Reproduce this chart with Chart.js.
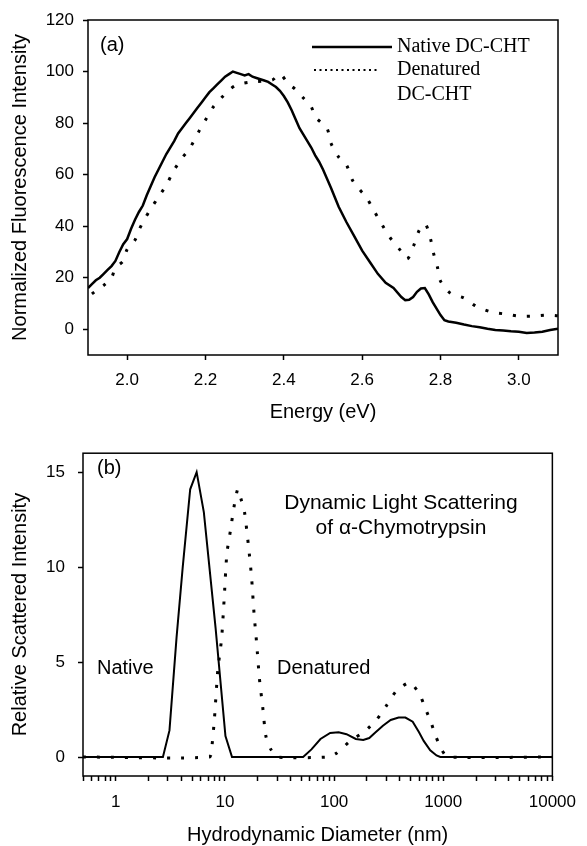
<!DOCTYPE html>
<html lang="en">
<head>
<meta charset="UTF-8">
<title>DC-CHT fluorescence and dynamic light scattering</title>
<style>
  body { margin: 0; background: #fff; }
  #wrap { position: relative; width: 587px; height: 846px; }
  canvas { position: absolute; left: 0; }
  #fluorChart { top: 0; }
  #dlsChart { top: 430px; }
</style>
</head>
<body>
<div id="wrap">
  <canvas id="fluorChart" width="587" height="430"></canvas>
  <canvas id="dlsChart" width="587" height="416"></canvas>
</div>
<script src="https://cdn.jsdelivr.net/npm/chart.js"></script>
<script>
// panel (a): fluorescence spectra
const nativeEnergy = [1.90, 1.91, 1.92, 1.93, 1.94, 1.95, 1.96, 1.97, 1.98, 1.99, 2.00, 2.01, 2.02, 2.03, 2.04, 2.05, 2.06, 2.07, 2.08, 2.09,
  2.10, 2.11, 2.12, 2.13, 2.14, 2.15, 2.16, 2.17, 2.18, 2.19, 2.20, 2.21, 2.22, 2.23, 2.24, 2.25, 2.26, 2.27, 2.28, 2.29,
  2.30, 2.31, 2.32, 2.33, 2.34, 2.35, 2.36, 2.37, 2.38, 2.39, 2.40, 2.41, 2.42, 2.43, 2.44, 2.45, 2.46, 2.47, 2.48, 2.49,
  2.50, 2.52, 2.54, 2.56, 2.58, 2.60, 2.62, 2.64, 2.66, 2.68, 2.70, 2.71, 2.72, 2.73, 2.74, 2.75, 2.76, 2.77, 2.78, 2.79,
  2.80, 2.81, 2.82, 2.84, 2.86, 2.88, 2.90, 2.92, 2.94, 2.96, 2.98, 3.00, 3.02, 3.04, 3.06, 3.08, 3.10];
const nativeFluor = [16, 17.5, 19, 20, 21.5, 23, 24.5, 26.5, 30, 33, 35, 39, 42.5, 45.5, 48, 52, 55.5, 59, 62, 65,
  68, 70.5, 73, 76, 78, 80, 82, 84, 86, 88, 90, 92, 93.5, 95, 96.5, 98, 99, 100, 99.5, 99,
  98.5, 99, 98, 97.5, 97, 96.5, 96, 95, 94, 92.5, 90.5, 88, 85, 81.5, 78, 75.5, 73, 70.5, 67.5, 65,
  62, 55, 47.5, 41.5, 36, 30.5, 26, 21.5, 18, 16, 12.5, 11.3, 11.4, 12.5, 14.5, 15.8, 16, 13.5, 10.5, 8,
  5.5, 3.5, 3, 2.5, 1.8, 1.2, 0.8, 0.2, -0.3, -0.5, -0.8, -1.0, -1.5, -1.3, -1.0, -0.3, 0.2];
const denatEnergy = [1.91, 1.93, 1.94, 1.96, 1.97, 1.99, 2.00, 2.02, 2.03, 2.045, 2.06, 2.08, 2.10, 2.12, 2.14, 2.16, 2.185, 2.20, 2.22, 2.24,
  2.26, 2.28, 2.32, 2.37, 2.39, 2.41, 2.43, 2.45, 2.47, 2.48, 2.51, 2.52, 2.54, 2.56, 2.575, 2.59, 2.61, 2.63, 2.65, 2.67,
  2.695, 2.715, 2.733, 2.746, 2.761, 2.774, 2.782, 2.792, 2.80, 2.825, 2.86, 2.89, 2.93, 2.965, 3.00, 3.035, 3.07, 3.10];
const denatFluor = [13.7, 16, 17, 20, 23.8, 26.5, 31, 34.6, 38.5, 42.8, 46.7, 51.3, 56, 61.8, 66.4, 70.3, 77.3, 81.2, 86.3, 89.7,
  92.8, 94.8, 96, 96.7, 99, 95.5, 93, 89.7, 86.3, 82.4, 78, 72.3, 66.8, 63.7, 57.9, 54.8, 51.3, 46, 40.8, 35.8,
  31.1, 27.3, 33, 38.5, 40.8, 35.4, 29.6, 24.2, 18.7, 14, 12.1, 9, 6.7, 5.9, 5.1, 5.1, 5.5, 5.2];
const energyTicks = [2.0, 2.2, 2.4, 2.6, 2.8, 3.0];
const fluorTicks = [0, 20, 40, 60, 80, 100, 120];

// panel (b): dynamic light scattering
const nativeDiam = [0.5, 2.7, 3.1, 3.6, 4.1, 4.8, 5.5, 6.4, 8.2, 10.1, 11.6, 52, 62, 75, 92, 110, 130, 158, 185, 210,
  240, 280, 330, 390, 450, 525, 600, 662, 760, 868, 940, 10000];
const nativeScatter = [0, 0, 1.4, 6.3, 10, 14.1, 15, 12.9, 6.8, 1.1, 0, 0, 0.4, 0.95, 1.27, 1.3, 1.2, 0.95, 0.9, 1.0,
  1.3, 1.65, 1.95, 2.08, 2.08, 1.86, 1.3, 0.85, 0.35, 0.08, 0, 0];
const denatDiam = [0.5, 7.2, 7.6, 8.0, 8.6, 9.3, 9.8, 10.4, 11.2, 12.2, 13.1, 14.0, 15.1, 16.5, 17.5, 18.5, 19.5, 20.7, 22.2, 23.7,
  26.4, 30, 88, 105, 141, 192, 248, 305, 371, 494, 603, 688, 774, 857, 977, 1100, 10000];
const denatScatter = [0, 0, 0.6, 2, 4.6, 6.2, 8.2, 10.7, 11.9, 13.3, 14.1, 13.6, 12.9, 11, 9.5, 7.5, 6, 4.1, 2.6, 1.1,
  0.39, 0, 0, 0.2, 0.85, 1.36, 2.0, 2.75, 3.47, 3.93, 3.34, 2.54, 1.81, 1.07, 0.34, 0, 0];
const diamMajor = [1, 10, 100, 1000, 10000];
const scatterTicks = [0, 5, 10, 15];

const tickFont = { family: "'Liberation Sans', Arial, sans-serif", size: 17 };
const titleFont = { family: "'Liberation Sans', Arial, sans-serif", size: 20 };
const sans20 = "20px 'Liberation Sans', Arial, sans-serif";
const sans21 = "21px 'Liberation Sans', Arial, sans-serif";
const serif20 = "20px 'Liberation Serif', 'Times New Roman', serif";

function pts(xs, ys) {
  return xs.map((x, i) => ({ x: x, y: ys[i] }));
}

// box round the plot, free text and the little legend
const panelText = {
  id: 'panelText',
  afterDatasetsDraw(chart, args, opts) {
    const ctx = chart.ctx;
    const a = chart.chartArea;
    ctx.save();
    ctx.strokeStyle = '#000';
    ctx.lineWidth = 1.5;
    ctx.strokeRect(a.left, a.top, a.right - a.left, a.bottom - a.top);
    (opts.keys || []).forEach(k => {
      ctx.beginPath();
      ctx.lineWidth = k.width;
      ctx.setLineDash(k.dash || []);
      ctx.moveTo(a.left + k.x1, a.top + k.dy);
      ctx.lineTo(a.left + k.x2, a.top + k.dy);
      ctx.stroke();
    });
    ctx.setLineDash([]);
    ctx.fillStyle = '#000';
    ctx.textBaseline = 'middle';
    (opts.labels || []).forEach(l => {
      ctx.font = l.font;
      ctx.textAlign = l.align || 'left';
      ctx.fillText(l.text, a.left + l.dx, a.top + l.dy);
    });
    ctx.restore();
  }
};

function yAxis(min, max, ticks, width, pad, title) {
  return {
    type: 'linear', min: min, max: max,
    afterBuildTicks: s => { s.ticks = ticks.map(v => ({ value: v })); },
    afterFit: s => { s.width = width; },
    ticks: { font: tickFont, color: '#000', padding: pad },
    grid: { drawOnChartArea: false, tickLength: 5, tickColor: '#000', tickWidth: 1.5 },
    border: { display: false },
    title: { display: true, text: title, font: titleFont, color: '#000', padding: { top: 8, bottom: 0 } }
  };
}

new Chart(document.getElementById('fluorChart'), {
  type: 'line',
  data: {
    datasets: [
      {
        label: 'Native DC-CHT',
        data: pts(nativeEnergy, nativeFluor),
        borderColor: '#000', borderWidth: 2.5, pointRadius: 0, tension: 0
      },
      {
        label: 'Denatured DC-CHT',
        data: pts(denatEnergy, denatFluor),
        borderColor: '#000', borderWidth: 3, borderDash: [3, 11], borderCapStyle: 'butt', pointRadius: 0, tension: 0.3
      }
    ]
  },
  options: {
    responsive: false,
    animation: false,
    layout: { padding: { top: 20, right: 29, left: 0, bottom: 0 } },
    plugins: {
      legend: { display: false },
      tooltip: { enabled: false },
      panelText: {
        labels: [
          { text: '(a)', font: sans20, dx: 12, dy: 25 },
          { text: 'Native DC-CHT', font: serif20, dx: 309, dy: 27 },
          { text: 'Denatured', font: serif20, dx: 309, dy: 50 },
          { text: 'DC-CHT', font: serif20, dx: 309, dy: 75 }
        ],
        keys: [
          { x1: 224, x2: 304, dy: 27, width: 2.5 },
          { x1: 226, x2: 292, dy: 50, width: 2, dash: [2, 3.5] }
        ]
      }
    },
    scales: {
      x: {
        type: 'linear', min: 1.9, max: 3.1,
        afterBuildTicks: s => { s.ticks = energyTicks.map(v => ({ value: v })); },
        afterFit: s => { s.height = 75; },
        ticks: { font: tickFont, color: '#000', padding: 10, maxRotation: 0, autoSkip: false, callback: v => v.toFixed(1) },
        grid: { drawOnChartArea: false, tickLength: 5, tickColor: '#000', tickWidth: 1.5 },
        border: { display: false },
        title: { display: true, text: 'Energy (eV)', font: titleFont, color: '#000', padding: { top: 0, bottom: 6 } }
      },
      y: yAxis(-10, 120, fluorTicks, 88, 9, 'Normalized Fluorescence Intensity')
    }
  },
  plugins: [panelText]
});

// log axis: majors at each decade, minor marks at 2..9 times
const diamTicks = [];
[0.1, 1, 10, 100, 1000].forEach(d => {
  for (let m = 1; m <= 9; m++) {
    const v = m * d;
    if (v >= 0.5 && v <= 10000) diamTicks.push(v);
  }
});
diamTicks.push(10000);

new Chart(document.getElementById('dlsChart'), {
  type: 'line',
  data: {
    datasets: [
      {
        label: 'Native',
        data: pts(nativeDiam, nativeScatter),
        borderColor: '#000', borderWidth: 2, pointRadius: 0, tension: 0
      },
      {
        label: 'Denatured',
        data: pts(denatDiam, denatScatter),
        borderColor: '#000', borderWidth: 3, borderDash: [3, 11], borderCapStyle: 'butt', pointRadius: 0, tension: 0.2
      }
    ]
  },
  options: {
    responsive: false,
    animation: false,
    layout: { padding: { top: 13, right: 30, left: 0, bottom: 0 } },
    plugins: {
      legend: { display: false },
      tooltip: { enabled: false },
      panelText: {
        labels: [
          { text: '(b)', font: sans20, dx: 14, dy: 15 },
          { text: 'Dynamic Light Scattering', font: sans21, dx: 318, dy: 50, align: 'center' },
          { text: 'of \u03b1-Chymotrypsin', font: sans21, dx: 318, dy: 75, align: 'center' },
          { text: 'Native', font: sans20, dx: 14, dy: 215 },
          { text: 'Denatured', font: sans20, dx: 194, dy: 215 }
        ]
      }
    },
    scales: {
      x: {
        type: 'logarithmic', min: 0.5, max: 10000,
        afterBuildTicks: s => { s.ticks = diamTicks.map(v => ({ value: v, major: diamMajor.includes(v) })); },
        afterFit: s => { s.height = 70; },
        ticks: {
          font: tickFont, color: '#000', padding: 11, maxRotation: 0, autoSkip: false,
          callback: v => diamMajor.includes(v) ? String(v) : ''
        },
        grid: { drawOnChartArea: false, tickLength: 5, tickColor: '#000', tickWidth: 1.5 },
        border: { display: false },
        title: { display: true, text: 'Hydrodynamic Diameter (nm)', font: Object.assign({ lineHeight: 1 }, titleFont), color: '#000', padding: { top: 0, bottom: 1 } }
      },
      y: yAxis(-1, 16, scatterTicks, 83, 13, 'Relative Scattered Intensity')
    }
  },
  plugins: [panelText]
});
</script>
</body>
</html>
